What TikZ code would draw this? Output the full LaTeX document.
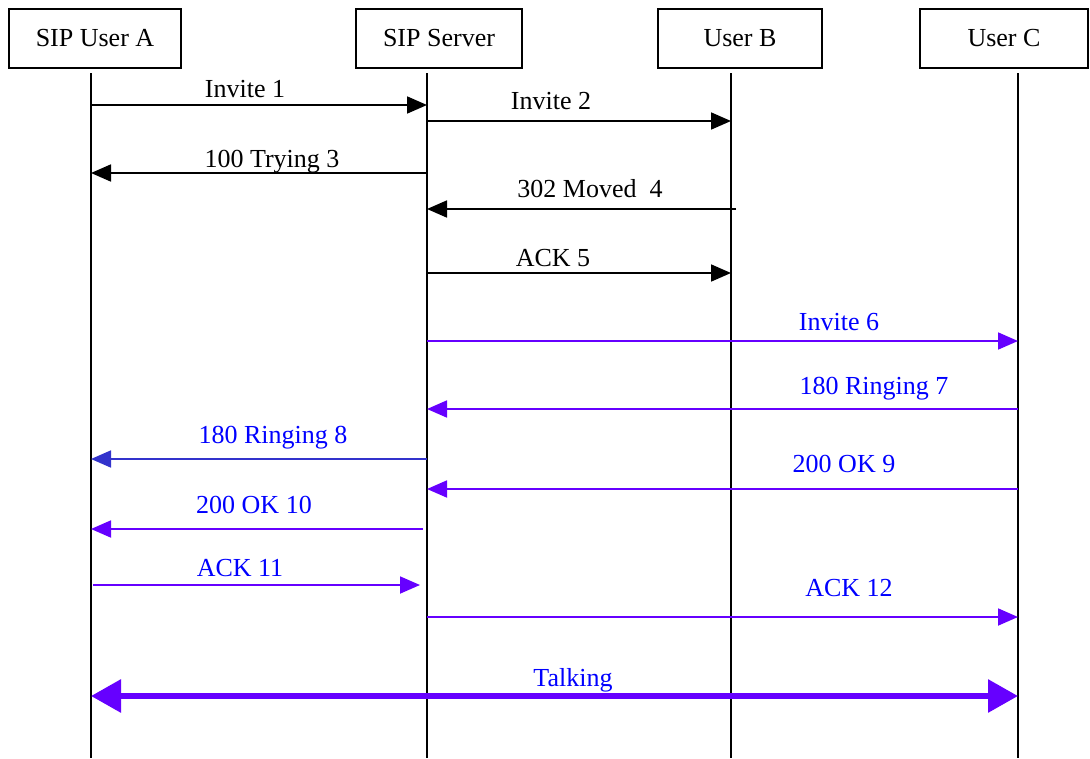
\documentclass[tikz,border=0pt]{standalone}
\usepackage{fontspec}
\setmainfont{Liberation Serif}
\usetikzlibrary{arrows.meta,positioning}
\definecolor{sipviolet}{RGB}{102,0,255}
\definecolor{sipblue}{RGB}{0,0,255}
\definecolor{sipindigo}{RGB}{51,51,204}

\begin{document}
\begin{tikzpicture}[x=1pt,y=-1pt]
                % define styles
\tikzset{party/.style={draw=black,
                       line width=1.4pt,
                       minimum height=59pt,
                       inner sep=0,
                       font=\fontsize{26}{30}\selectfont,
                       },
         life/.style={draw=black,
                       line width=1.4pt,
                       },
         msg/.style={line width=1.8pt,
                       -{Triangle[length=20pt,width=17pt]},
                       },
         lbl/.style={inner sep=0,
                       anchor=base,
                       font=\fontsize{26}{30}\selectfont,
                       },
         talk/.style={line width=6pt,
                       {Triangle[length=30pt,width=32pt]}-{Triangle[length=30pt,width=32pt]},
                       }
}

\useasboundingbox (0,0) rectangle (1090,758);

% parties
\node[party, minimum width=172pt] (usera)  at (95,38.5)   {SIP User A};
\node[party, minimum width=166pt] (server) at (439,38.5)  {SIP Server};
\node[party, minimum width=164pt] (userb)  at (740,38.5)  {User B};
\node[party, minimum width=168pt] (userc)  at (1004,38.5) {User C};

% lifelines
\foreach \name/\x in {a/91, s/427, b/731, c/1018}
{
    \coordinate (\name-top) at (\x,73);
    \coordinate (\name-bot) at (\x,758);
    \draw[life] (\name-top) -- (\name-bot);
}

% messages
\draw[msg] (a-top |- 0,105) -- (s-top |- 0,105);
\draw[msg] (s-top |- 0,121) -- (b-top |- 0,121);
\draw[msg] (s-top |- 0,173) -- (a-top |- 0,173);
\draw[msg] ([xshift=5pt]b-top |- 0,209) -- (s-top |- 0,209);
\draw[msg] (s-top |- 0,273) -- (b-top |- 0,273);
\draw[msg,sipviolet] (s-top |- 0,341) -- (c-top |- 0,341);
\draw[msg,sipviolet] (c-top |- 0,409) -- (s-top |- 0,409);
\draw[msg,sipindigo] (s-top |- 0,459) -- (a-top |- 0,459);
\draw[msg,sipviolet] (c-top |- 0,489) -- (s-top |- 0,489);
\draw[msg,sipviolet] ([xshift=-4pt]s-top |- 0,529) -- (a-top |- 0,529);
\draw[msg,sipviolet] ([xshift=2pt]a-top |- 0,585) -- ([xshift=-7pt]s-top |- 0,585);
\draw[msg,sipviolet] (s-top |- 0,617) -- (c-top |- 0,617);
\draw[talk,sipviolet] (a-top |- 0,696) -- (c-top |- 0,696);

% labels
\node[lbl] (l1)  at (245,97)  {Invite 1};
\node[lbl] (l2)  at (551,109) {Invite 2};
\node[lbl] (l3)  at (272,167) {100 Trying 3};
\node[lbl] (l4)  at (590,197) {302 Moved\ \ 4};
\node[lbl, sipblue] (l6)  at (839,330) {Invite 6};
\node[lbl, sipblue] (l7)  at (874,394) {180 Ringing 7};
\node[lbl, sipblue] (l8)  at (273,443) {180 Ringing 8};
\node[lbl, sipblue] (l9)  at (844,472) {200 OK 9};
\node[lbl, sipblue] (l10) at (254,513) {200 OK 10};
\node[lbl, sipblue] (l11) at (240,576) {ACK 11};
\node[lbl, sipblue] (l12) at (849,596) {ACK 12};
\node[lbl] (l5)  at (553,266) {ACK 5};
\node[lbl, sipblue] (l13) at (573,686) {Talking};
\end{tikzpicture}
\end{document}
